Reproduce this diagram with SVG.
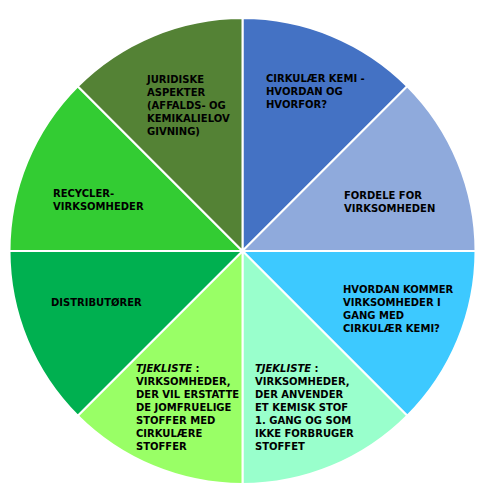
<svg xmlns="http://www.w3.org/2000/svg" width="500" height="500" viewBox="0 0 500 500">
<style>
.w{stroke:#fff;stroke-width:2;stroke-linejoin:round}
text{font-family:"DejaVu Sans","Verdana",sans-serif;font-weight:bold;font-size:10px;fill:#000}
.i{font-style:italic}
</style>
<rect width="500" height="500" fill="#fff"/>
<g id="n1"><path class="w" fill="#4472C4" d="M242.5,251 L242.5,18 A233,233 0 0 1 407.26,86.24 Z"/>
<text x="266" y="82"><tspan x="266">CIRKULÆR KEMI -</tspan><tspan x="266" y="95">HVORDAN OG</tspan><tspan x="266" y="108">HVORFOR?</tspan></text></g>
<g id="n2"><path class="w" fill="#8FAADC" d="M242.5,251 L407.26,86.24 A233,233 0 0 1 475.5,251 Z"/>
<text x="344" y="199"><tspan x="344">FORDELE FOR</tspan><tspan x="344" y="212">VIRKSOMHEDEN</tspan></text></g>
<g id="n3"><path class="w" fill="#3DC9FF" d="M242.5,251 L475.5,251 A233,233 0 0 1 407.26,415.76 Z"/>
<text x="343" y="293"><tspan x="343">HVORDAN KOMMER</tspan><tspan x="343" y="306">VIRKSOMHEDER I</tspan><tspan x="343" y="319">GANG MED</tspan><tspan x="343" y="332">CIRKULÆR KEMI?</tspan></text></g>
<g id="n4"><path class="w" fill="#99FFCC" d="M242.5,251 L407.26,415.76 A233,233 0 0 1 242.5,484 Z"/>
<text x="255" y="372"><tspan x="255" class="i">TJEKLISTE</tspan><tspan> :</tspan><tspan x="255" y="385">VIRKSOMHEDER,</tspan><tspan x="255" y="398">DER ANVENDER</tspan><tspan x="255" y="411">ET KEMISK STOF</tspan><tspan x="255" y="424">1. GANG OG SOM</tspan><tspan x="255" y="437">IKKE FORBRUGER</tspan><tspan x="255" y="450">STOFFET</tspan></text></g>
<g id="n5"><path class="w" fill="#99FF66" d="M242.5,251 L242.5,484 A233,233 0 0 1 77.74,415.76 Z"/>
<text x="136" y="372"><tspan x="136" class="i">TJEKLISTE</tspan><tspan> :</tspan><tspan x="136" y="385">VIRKSOMHEDER,</tspan><tspan x="136" y="398">DER VIL ERSTATTE</tspan><tspan x="136" y="411">DE JOMFRUELIGE</tspan><tspan x="136" y="424">STOFFER MED</tspan><tspan x="136" y="437">CIRKULÆRE</tspan><tspan x="136" y="450">STOFFER</tspan></text></g>
<g id="n6"><path class="w" fill="#00B050" d="M242.5,251 L77.74,415.76 A233,233 0 0 1 9.5,251 Z"/>
<text x="51" y="306">DISTRIBUTØRER</text></g>
<g id="n7"><path class="w" fill="#33CC33" d="M242.5,251 L9.5,251 A233,233 0 0 1 77.74,86.24 Z"/>
<text x="53" y="197"><tspan x="53">RECYCLER-</tspan><tspan x="53" y="210">VIRKSOMHEDER</tspan></text></g>
<g id="n8"><path class="w" fill="#548235" d="M242.5,251 L77.74,86.24 A233,233 0 0 1 242.5,18 Z"/>
<text x="147" y="83"><tspan x="147">JURIDISKE</tspan><tspan x="147" y="96">ASPEKTER</tspan><tspan x="147" y="109">(AFFALDS- OG</tspan><tspan x="147" y="122">KEMIKALIELOV</tspan><tspan x="147" y="135">GIVNING)</tspan></text></g>
<g id="connectors"></g>
</svg>
